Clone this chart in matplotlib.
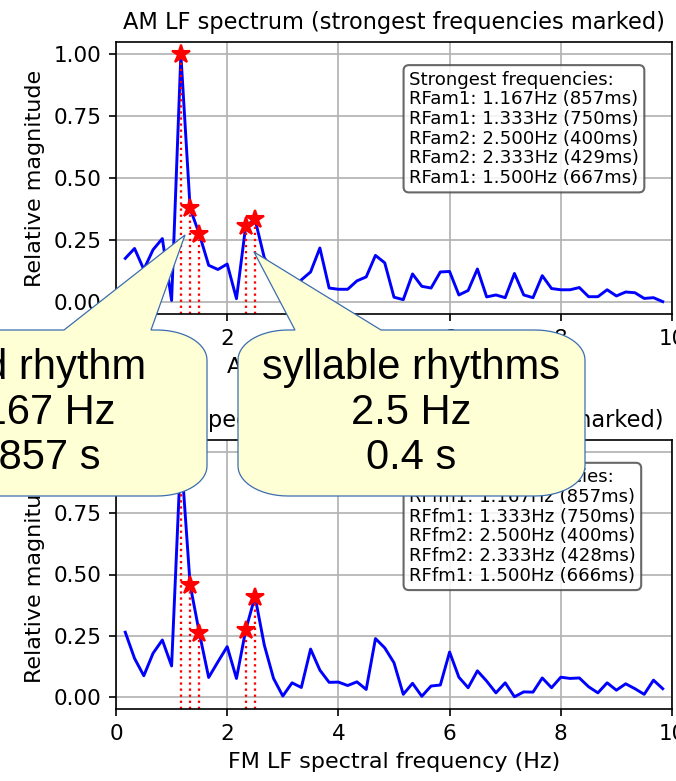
import numpy as np
import matplotlib
matplotlib.use("Agg")
import matplotlib.pyplot as plt
from matplotlib.path import Path
from matplotlib.patches import PathPatch

# ---------- data ---------- #
freqs = np.arange(1, 60) / 6.0   # LF spectrum bins (Hz)

am_mag = np.array([
    0.175, 0.215, 0.130, 0.210, 0.255, 0.005, 1.000, 0.377, 0.272, 0.147,
    0.130, 0.152, 0.012, 0.306, 0.333, 0.178, 0.120, 0.090, 0.055, 0.088,
    0.120, 0.217, 0.055, 0.050, 0.050, 0.084, 0.100, 0.187, 0.157, 0.018,
    0.008, 0.112, 0.062, 0.055, 0.120, 0.122, 0.027, 0.045, 0.132, 0.019,
    0.027, 0.016, 0.114, 0.027, 0.016, 0.105, 0.053, 0.048, 0.048, 0.057,
    0.020, 0.020, 0.048, 0.023, 0.039, 0.036, 0.013, 0.016, 0.000])

fm_mag = np.array([
    0.264, 0.157, 0.086, 0.178, 0.232, 0.126, 1.000, 0.458, 0.260, 0.079,
    0.143, 0.205, 0.075, 0.273, 0.410, 0.212, 0.075, 0.003, 0.057, 0.038,
    0.195, 0.109, 0.059, 0.060, 0.046, 0.061, 0.030, 0.238, 0.200, 0.139,
    0.010, 0.055, 0.002, 0.044, 0.048, 0.183, 0.080, 0.037, 0.106, 0.064,
    0.016, 0.057, 0.000, 0.020, 0.019, 0.077, 0.037, 0.080, 0.075, 0.077,
    0.041, 0.016, 0.057, 0.027, 0.053, 0.033, 0.010, 0.068, 0.033])

# strongest bins (index into freqs), in ranking order
peak_idx = [6, 7, 14, 13, 8]
am_names = ["RFam1", "RFam1", "RFam2", "RFam2", "RFam1"]
fm_names = ["RFfm1", "RFfm1", "RFfm2", "RFfm2", "RFfm1"]
am_ms = [857, 750, 400, 429, 667]
fm_ms = [857, 750, 400, 428, 666]

callout_texts = ["word rhythm\n1.167 Hz\n0.857 s",
                 "syllable rhythms\n2.5 Hz\n0.4 s"]

# ---------- figure ---------- #
W, H, DPI = 676, 781, 150
plt.rcParams["xtick.labelsize"] = 10.3
plt.rcParams["ytick.labelsize"] = 10.3
fig = plt.figure(figsize=(W / DPI, H / DPI), dpi=DPI)


def px_axes(left, top, right, bottom):
    return fig.add_axes([left / W, 1 - bottom / H, (right - left) / W, (bottom - top) / H])


def draw_spectrum(ax, mag, names, ms, title, xlabel):
    ax.plot(freqs, mag, color="blue", lw=1.4)
    for i in peak_idx:
        ax.axvline(freqs[i], ymax=mag[i], color="red", ls=":", lw=1.1)
    ax.plot(freqs[peak_idx], mag[peak_idx], "*", color="red", ms=9)
    ax.set_xlim(0, 10)
    ax.set_ylim(-0.05, 1.05)
    ax.set_xticks([0, 2, 4, 6, 8, 10])
    ax.set_yticks([0, 0.25, 0.5, 0.75, 1.0])
    ax.grid(True)
    ax.set_title(title, fontsize=10.8)
    ax.set_xlabel(xlabel, fontsize=10.7)
    ax.set_ylabel("Relative magnitude", fontsize=10.7)
    lines = ["Strongest frequencies:"]
    for n, i, m in zip(names, peak_idx, ms):
        lines.append(f"{n}: {freqs[i]:.3f}Hz ({m}ms)")
    ax.text(0.527, 0.895, "\n".join(lines), transform=ax.transAxes,
            ha="left", va="top", fontsize=8.7, linespacing=1.12,
            bbox=dict(boxstyle="round,pad=0.3", facecolor="white",
                      edgecolor="0.3", alpha=0.85))


ax_am = px_axes(116, 42, 672, 314)
ax_fm = px_axes(116, 440, 672, 709)
draw_spectrum(ax_am, am_mag, am_names, am_ms,
              "AM LF spectrum (strongest frequencies marked)", "AM LF spectral frequency (Hz)")
draw_spectrum(ax_fm, fm_mag, fm_names, fm_ms,
              "FM LF spectrum (strongest frequencies marked)", "FM LF spectral frequency (Hz)")


# ---------- callouts (pixel coords, origin top-left) ---------- #
def callout(x0, x1, y0, y1, base0, base1, tip, text, rx=50, ry=30):
    def arc(cx, cy, a0, a1):
        t = np.radians(np.linspace(a0, a1, 16))
        return list(zip(cx + rx * np.cos(t), cy + ry * np.sin(t)))

    pts = [tip, (base1, y0)]
    pts += arc(x1 - rx, y0 + ry, -90, 0)
    pts += arc(x1 - rx, y1 - ry, 0, 90)
    pts += arc(x0 + rx, y1 - ry, 90, 180)
    pts += arc(x0 + rx, y0 + ry, 180, 270)
    pts += [(base0, y0), tip]
    pts = np.array(pts, dtype=float)
    pts[:, 0] = pts[:, 0] / W
    pts[:, 1] = 1 - pts[:, 1] / H
    patch = PathPatch(Path(pts, closed=True), transform=fig.transFigure,
                      facecolor="#ffffd5", edgecolor="#3c6db0", lw=0.6, zorder=10)
    fig.add_artist(patch)
    fig.text((x0 + x1) / 2 / W, 1 - (y0 + y1) / 2 / H, text,
             ha="center", va="center", fontsize=20, linespacing=1.16,
             family="Liberation Sans", color="black", zorder=11)


callout(-143, 207, 330, 496, 64, 151, (185, 235), callout_texts[0])
callout(238, 585, 330, 496, 295, 381, (254, 252), callout_texts[1])

fig.savefig("out.png", dpi=DPI)
